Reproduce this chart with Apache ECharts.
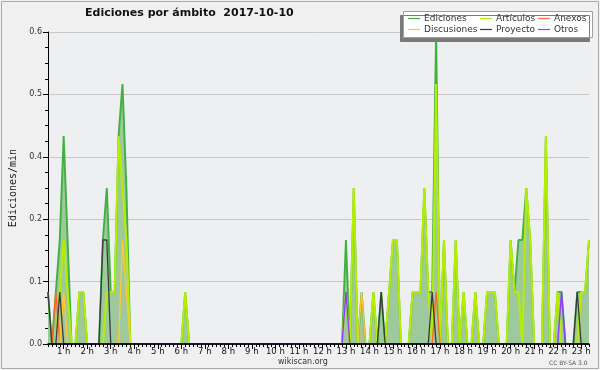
<!DOCTYPE html>
<html><head><meta charset="utf-8">
<script src="https://cdn.jsdelivr.net/npm/echarts@6/dist/echarts.min.js"></script>
<style>html,body{margin:0;padding:0;background:#f0f0f0}#c{width:600px;height:370px}</style>
</head><body><div id="c"></div>
<script>
// 10-minute bins from 0:20 to 23:20
const times = [];
for (let m = 20; m <= 1400; m += 10) times.push(Math.floor(m / 60) + ':' + String(m % 60).padStart(2, '0'));

// rows: [0:20-0:50], then one row per hour h:00..h:50, last row 23:00-23:20
const ediciones = [
  [0.1, 0, 0.1, 0.2],
  [0.4, 0.2, 0, 0, 0.1, 0.1],   // 1h
  [0, 0, 0, 0, 0.2, 0.3],       // 2h
  [0.1, 0.1, 0.4, 0.5, 0.3, 0], // 3h
  [0, 0, 0, 0, 0, 0],           // 4h
  [0, 0, 0, 0, 0, 0],           // 5h
  [0, 0.1, 0, 0, 0, 0],         // 6h
  [0, 0, 0, 0, 0, 0],           // 7h
  [0, 0, 0, 0, 0, 0],           // 8h
  [0, 0, 0, 0, 0, 0],           // 9h
  [0, 0, 0, 0, 0, 0],           // 10h
  [0, 0, 0, 0, 0, 0],           // 11h
  [0, 0, 0, 0, 0, 0],           // 12h
  [0.2, 0, 0.3, 0, 0.1, 0],     // 13h
  [0, 0.1, 0, 0.1, 0, 0.1],     // 14h
  [0.2, 0.2, 0, 0, 0, 0.1],     // 15h
  [0.1, 0.1, 0.3, 0.1, 0.1, 0.6], // 16h
  [0, 0.2, 0, 0, 0.2, 0],       // 17h
  [0.1, 0, 0, 0.1, 0, 0],       // 18h
  [0.1, 0.1, 0.1, 0, 0, 0],     // 19h
  [0.2, 0.1, 0.2, 0.2, 0.3, 0.2], // 20h
  [0, 0, 0, 0.4, 0, 0],         // 21h
  [0.1, 0.1, 0, 0, 0, 0.1],     // 22h
  [0.1, 0.1, 0.2]               // 23h
];
const articulos = [
  [0, 0, 0, 0.1],
  [0.2, 0.1, 0, 0, 0.1, 0.1],
  [0, 0, 0, 0, 0, 0.1],
  [0.1, 0.1, 0.4, 0.3, 0.2, 0],
  [0, 0, 0, 0, 0, 0],
  [0, 0, 0, 0, 0, 0],
  [0, 0.1, 0, 0, 0, 0],
  [0, 0, 0, 0, 0, 0],
  [0, 0, 0, 0, 0, 0],
  [0, 0, 0, 0, 0, 0],
  [0, 0, 0, 0, 0, 0],
  [0, 0, 0, 0, 0, 0],
  [0, 0, 0, 0, 0, 0],
  [0.1, 0, 0.3, 0, 0, 0],
  [0, 0.1, 0, 0, 0, 0.1],
  [0.2, 0.2, 0, 0, 0, 0.1],
  [0.1, 0.1, 0.3, 0.1, 0, 0.5],
  [0, 0.2, 0, 0, 0.2, 0],
  [0.1, 0, 0, 0.1, 0, 0],
  [0.1, 0.1, 0.1, 0, 0, 0],
  [0.2, 0.1, 0.1, 0, 0.3, 0.2],
  [0, 0, 0, 0.4, 0, 0],
  [0.1, 0, 0, 0, 0, 0],
  [0.1, 0.1, 0.2]
];
const anexos = [
  [0, 0, 0.1, 0],
  [0, 0, 0, 0, 0, 0], [0, 0, 0, 0, 0, 0], [0, 0, 0, 0, 0, 0], [0, 0, 0, 0, 0, 0],
  [0, 0, 0, 0, 0, 0], [0, 0, 0, 0, 0, 0], [0, 0, 0, 0, 0, 0], [0, 0, 0, 0, 0, 0],
  [0, 0, 0, 0, 0, 0], [0, 0, 0, 0, 0, 0], [0, 0, 0, 0, 0, 0], [0, 0, 0, 0, 0, 0],
  [0, 0, 0, 0, 0, 0], [0, 0, 0, 0, 0, 0], [0, 0, 0, 0, 0, 0],
  [0, 0, 0, 0, 0, 0.1],         // 16h
  [0, 0, 0, 0, 0, 0], [0, 0, 0, 0, 0, 0], [0, 0, 0, 0, 0, 0], [0, 0, 0, 0, 0, 0],
  [0, 0, 0, 0, 0, 0], [0, 0, 0, 0, 0, 0],
  [0, 0, 0]
];
const discusiones = [
  [0, 0, 0, 0],
  [0.1, 0, 0, 0, 0, 0],
  [0, 0, 0, 0, 0, 0],
  [0, 0, 0, 0.2, 0.1, 0],       // 3h
  [0, 0, 0, 0, 0, 0], [0, 0, 0, 0, 0, 0], [0, 0, 0, 0, 0, 0], [0, 0, 0, 0, 0, 0],
  [0, 0, 0, 0, 0, 0], [0, 0, 0, 0, 0, 0], [0, 0, 0, 0, 0, 0], [0, 0, 0, 0, 0, 0],
  [0, 0, 0, 0, 0, 0],
  [0, 0, 0, 0, 0.1, 0],         // 13h
  [0, 0, 0, 0, 0, 0], [0, 0, 0, 0, 0, 0], [0, 0, 0, 0, 0, 0], [0, 0, 0, 0, 0, 0],
  [0, 0, 0, 0, 0, 0], [0, 0, 0, 0, 0, 0], [0, 0, 0, 0, 0, 0], [0, 0, 0, 0, 0, 0],
  [0, 0, 0, 0, 0, 0],
  [0, 0, 0]
];
const proyecto = [
  [0.1, 0, 0, 0.1],
  [0, 0, 0, 0, 0, 0],
  [0, 0, 0, 0, 0.2, 0.2],       // 2h
  [0, 0, 0, 0, 0, 0], [0, 0, 0, 0, 0, 0], [0, 0, 0, 0, 0, 0], [0, 0, 0, 0, 0, 0],
  [0, 0, 0, 0, 0, 0], [0, 0, 0, 0, 0, 0], [0, 0, 0, 0, 0, 0], [0, 0, 0, 0, 0, 0],
  [0, 0, 0, 0, 0, 0], [0, 0, 0, 0, 0, 0],
  [0, 0, 0, 0, 0, 0],           // 13h
  [0, 0, 0, 0.1, 0, 0],         // 14h
  [0, 0, 0, 0, 0, 0],           // 15h
  [0, 0, 0, 0, 0.1, 0],         // 16h
  [0, 0, 0, 0, 0, 0], [0, 0, 0, 0, 0, 0], [0, 0, 0, 0, 0, 0], [0, 0, 0, 0, 0, 0],
  [0, 0, 0, 0, 0, 0],
  [0, 0, 0, 0, 0, 0.1],         // 22h
  [0, 0, 0]
];
const otros = [
  [0, 0, 0, 0],
  [0, 0, 0, 0, 0, 0], [0, 0, 0, 0, 0, 0], [0, 0, 0, 0, 0, 0], [0, 0, 0, 0, 0, 0],
  [0, 0, 0, 0, 0, 0], [0, 0, 0, 0, 0, 0], [0, 0, 0, 0, 0, 0], [0, 0, 0, 0, 0, 0],
  [0, 0, 0, 0, 0, 0], [0, 0, 0, 0, 0, 0], [0, 0, 0, 0, 0, 0], [0, 0, 0, 0, 0, 0],
  [0.1, 0, 0, 0, 0, 0],         // 13h
  [0, 0, 0, 0, 0, 0], [0, 0, 0, 0, 0, 0], [0, 0, 0, 0, 0, 0], [0, 0, 0, 0, 0, 0],
  [0, 0, 0, 0, 0, 0], [0, 0, 0, 0, 0, 0], [0, 0, 0, 0, 0, 0], [0, 0, 0, 0, 0, 0],
  [0, 0.1, 0, 0, 0, 0],         // 22h
  [0, 0, 0]
];

const seriesNames = ['Ediciones', 'Artículos', 'Anexos', 'Discusiones', 'Proyecto', 'Otros'];
const seriesData = [ediciones, articulos, anexos, discusiones, proyecto, otros];
const seriesColors = ['#40b040', '#b6ee00', '#ff6a2a', '#ffc830', '#3a3a3a', '#8a3cff'];
const seriesWidths = [1.9, 2.0, 1.4, 1.4, 1.3, 1.4];

const F = 'DejaVu Sans';
const chart = echarts.init(document.getElementById('c'), null, {renderer: 'canvas'});

const series = seriesNames.map((name, k) => ({
  name, type: 'line', data: seriesData[k].flat(),
  symbol: 'none', showSymbol: false, animation: false,
  lineStyle: {color: seriesColors[k], width: seriesWidths[k]},
  itemStyle: {color: seriesColors[k]},
  areaStyle: k === 0 ? {color: '#9dc99d', opacity: 1} : undefined,
  z: 2 + k
}));

const legendBase = {
  orient: 'vertical', top: 13, itemGap: 0, itemWidth: 12, itemHeight: 1.2, icon: 'rect',
  selectedMode: false, z: 20, padding: 0,
  textStyle: {fontFamily: F, fontSize: 9, color: '#333', lineHeight: 11, padding: [0, 0, 0, -1]}
};

chart.setOption({
  backgroundColor: '#f0f0f0',
  animation: false,
  title: {
    text: 'Ediciones por ámbito  2017-10-10', left: 85, top: 8, padding: 0,
    textStyle: {fontFamily: F, fontWeight: 'bold', fontSize: 11, color: '#111'}
  },
  legend: [
    Object.assign({}, legendBase, {left: 408, data: ['Ediciones', 'Discusiones']}),
    Object.assign({}, legendBase, {left: 480, data: ['Artículos', 'Proyecto']}),
    Object.assign({}, legendBase, {left: 538, data: ['Anexos', 'Otros']})
  ],
  grid: {left: 46, right: 11, top: 32, bottom: 26, show: true, backgroundColor: '#edeff1', borderWidth: 0},
  xAxis: [{
    type: 'category', data: times, boundaryGap: false, z: 10,
    axisLine: {lineStyle: {color: '#000', width: 1.5}},
    axisTick: {interval: 0, length: 3, lineStyle: {color: '#000'}},
    axisLabel: {
      interval: (i, v) => v.endsWith(':00'),
      formatter: v => parseInt(v, 10) + ' h',
      fontFamily: F, fontSize: 8.5, color: '#111', margin: 3
    }
  }, {
    type: 'category', data: times, boundaryGap: false, position: 'bottom', z: 10,
    axisLine: {show: false},
    axisTick: {interval: (i, v) => v.endsWith(':00'), length: 5, lineStyle: {color: '#000'}},
    axisLabel: {show: false}
  }],
  yAxis: {
    type: 'value', min: 0, max: 0.6, interval: 0.12,
    axisLine: {show: true, lineStyle: {color: '#000'}},
    axisTick: {show: true, length: 5, lineStyle: {color: '#000'}},
    minorTick: {show: true, splitNumber: 4, length: 3, lineStyle: {color: '#000'}},
    splitLine: {lineStyle: {color: '#c8c8c8'}},
    axisLabel: {formatter: v => v.toFixed(1), fontFamily: F, fontSize: 8, color: '#333', margin: 6},
    name: 'Ediciones/min', nameLocation: 'middle', nameGap: 30,
    nameTextStyle: {fontFamily: 'DejaVu Sans Mono', fontSize: 10, color: '#222'}
  },
  series,
  graphic: [
    {type: 'rect', z: -1, silent: true, shape: {x: 1.5, y: 1.5, width: 597, height: 367},
      style: {fill: null, stroke: '#a8a8a8', lineWidth: 1}},
    {type: 'rect', z: 15, silent: true, shape: {x: 403.5, y: 11.5, width: 189, height: 26},
      style: {fill: '#ffffff', stroke: '#a0a0a0', lineWidth: 1, shadowColor: '#7a7a7a', shadowOffsetX: -3, shadowOffsetY: 4, shadowBlur: 0}},
    {type: 'text', z: 15, silent: true, left: 278, top: 358,
      style: {text: 'wikiscan.org', fontFamily: F, fontSize: 8, fill: '#333'}},
    {type: 'text', z: 15, silent: true, left: 549, top: 360,
      style: {text: 'CC BY-SA 3.0', fontFamily: F, fontSize: 6, fill: '#555'}}
  ]
});
</script>
</body></html>
